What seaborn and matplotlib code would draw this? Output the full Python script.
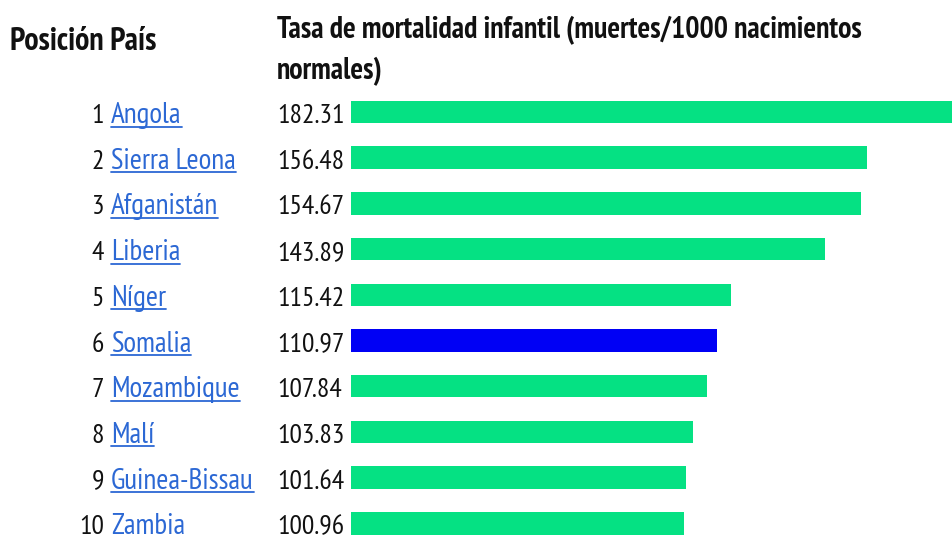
import matplotlib
matplotlib.use("Agg")
import matplotlib.pyplot as plt
import matplotlib.transforms as mtransforms
from matplotlib import font_manager
import seaborn as sns
import pandas as pd

positions = [1, 2, 3, 4, 5, 6, 7, 8, 9, 10]
countries = ["Angola", "Sierra Leona", "Afganistán", "Liberia", "Níger",
             "Somalia", "Mozambique", "Malí", "Guinea-Bissau", "Zambia"]
rates = [182.31, 156.48, 154.67, 143.89, 115.42, 110.97, 107.84, 103.83, 101.64, 100.96]
highlight = "Somalia"

header_left = "Posición País"
header_right_1 = "Tasa de mortalidad infantil (muertes/1000 nacimientos"
header_right_2 = "normales)"

sns.set_style("white")
names = {f.name for f in font_manager.fontManager.ttflist}
fam = "Liberation Sans"
for cand in ["Liberation Sans Narrow", "PT Sans Narrow", "Roboto Condensed",
             "Archivo Narrow", "Arial Narrow"]:
    if cand in names:
        fam = cand
        break
plt.rcParams["font.family"] = [fam, "DejaVu Sans"]

W, H = 952, 536
fig = plt.figure(figsize=(W / 100, H / 100), dpi=100)
fig.patch.set_facecolor("white")

step = 45.7
top_px = 112 - 0.5 * step
ax = fig.add_axes([351 / W, 0, (W - 351) / W, 1 - top_px / H])

df = pd.DataFrame({"country": countries, "rate": rates})
green = "#05E183"
blue = "#0000F5"
palette = {c: (blue if c == highlight else green) for c in countries}
sns.barplot(data=df, x="rate", y="country", hue="country", palette=palette,
            order=countries, width=22.5 / step, legend=False, ax=ax,
            saturation=1, linewidth=0)
ax.set_xlim(0, rates[0])
n_bot = (H - top_px) / step - 0.5
ax.set_ylim(n_bot, -0.5)
ax.axis("off")

fs_num = 20
fs_name = 21
fs_head_left = 23
fs_head_right = 21.5
base_off = 11
trans = mtransforms.blended_transform_factory(fig.transFigure, ax.transData)
trans = mtransforms.offset_copy(trans, fig=fig, x=0, y=-base_off, units="dots")
link_color = "#2C68D4"
text_color = "#111111"
name_texts = []
for i, (p, c, r) in enumerate(zip(positions, countries, rates)):
    fig.text(104 / W, i, str(p), transform=trans, ha="right", va="baseline",
             fontsize=fs_num, color=text_color)
    t = fig.text(111 / W, i, c, transform=trans, ha="left", va="baseline",
                 fontsize=fs_name, color=link_color)
    name_texts.append(t)
    fig.text(277 / W, i, f"{r:.2f}", transform=trans, ha="left", va="baseline",
             fontsize=fs_num, color=text_color)

fig.text(10 / W, 1 - 50 / H, header_left, ha="left", va="baseline",
         fontsize=fs_head_left, fontweight="bold", color=text_color)
fig.text(277 / W, 1 - 38 / H, header_right_1, ha="left", va="baseline",
         fontsize=fs_head_right, fontweight="bold", color=text_color)
fig.text(277 / W, 1 - 79 / H, header_right_2, ha="left", va="baseline",
         fontsize=fs_head_right, fontweight="bold", color=text_color)

# underline the link-style country names
fig.canvas.draw()
renderer = fig.canvas.get_renderer()
for i, t in enumerate(name_texts):
    bb = t.get_window_extent(renderer)
    base_y = ax.transData.transform((0, i))[1] - base_off - 3.5
    fig.add_artist(plt.Line2D([bb.x0 / W, bb.x1 / W], [base_y / H, base_y / H],
                              transform=fig.transFigure, color=link_color, lw=1.3))

fig.savefig("out.png", dpi=100, facecolor="white")
